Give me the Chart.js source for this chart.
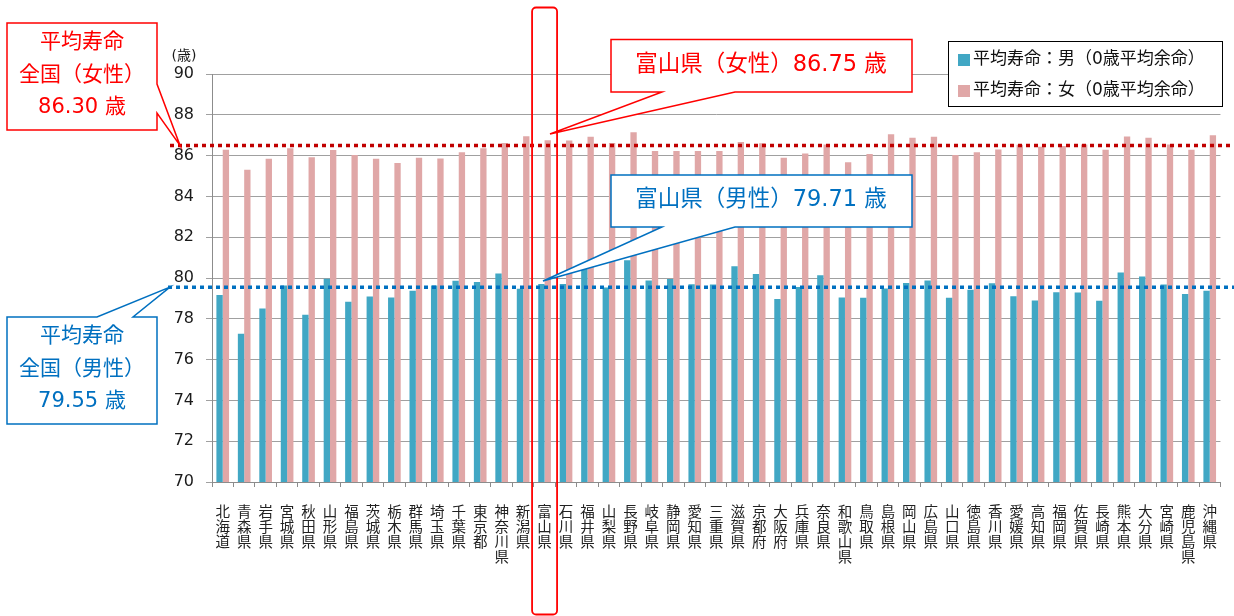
<!DOCTYPE html>
<html><head><meta charset="utf-8">
<script src="https://cdn.jsdelivr.net/npm/chart.js@4.4.1/dist/chart.umd.min.js"></script>
<style>html,body{margin:0;padding:0;background:#fff}#wrap{width:1234px;height:616px;position:relative}</style>
</head><body><div id="wrap"><canvas id="c" width="1234" height="616"></canvas></div>
<script>
const prefectures = ['北海道','青森県','岩手県','宮城県','秋田県','山形県','福島県','茨城県','栃木県','群馬県','埼玉県','千葉県','東京都','神奈川県','新潟県','富山県','石川県','福井県','山梨県','長野県','岐阜県','静岡県','愛知県','三重県','滋賀県','京都府','大阪府','兵庫県','奈良県','和歌山県','鳥取県','島根県','岡山県','広島県','山口県','徳島県','香川県','愛媛県','高知県','福岡県','佐賀県','長崎県','熊本県','大分県','宮崎県','鹿児島県','沖縄県'];
const maleValues = [79.17,77.27,78.51,79.63,78.20,79.96,78.84,79.09,79.04,79.38,79.63,79.87,79.81,80.22,79.47,79.71,79.71,80.47,79.54,80.87,79.88,79.95,79.69,79.68,80.58,80.20,78.97,79.56,80.13,79.04,79.03,79.49,79.75,79.88,79.03,79.42,79.74,79.11,78.90,79.30,79.29,78.89,80.27,80.07,79.68,79.22,79.37];
const femaleValues = [86.29,85.31,85.85,86.36,85.92,86.28,86.03,85.84,85.64,85.90,85.86,86.17,86.36,86.62,86.95,86.75,86.74,86.93,86.62,87.14,86.23,86.22,86.22,86.23,86.67,86.60,85.90,86.10,86.55,85.68,86.08,87.05,86.88,86.93,86.03,86.16,86.30,86.53,86.43,86.47,86.54,86.29,86.94,86.88,86.55,86.29,87.00];
const seriesNames = ['平均寿命：男（0歳平均余命）','平均寿命：女（0歳平均余命）'];
const yMin = 70, yMax = 90, yStep = 2;
const nationalFemaleLevel = 86.5;
const nationalMaleLevel = 79.55;
const highlightIndex = 15;

const CJK = '"Noto Sans CJK JP", sans-serif';
const MIX = '"DejaVu Sans", "Noto Sans CJK JP", sans-serif';
const MALE_C = '#41A7C4', FEMALE_C = '#E0A7A7';
const RED = '#FF0000', BLUE = '#0070C0';

function callout(ctx, pts, stroke) {
  ctx.beginPath();
  pts.forEach((p, i) => i ? ctx.lineTo(p[0], p[1]) : ctx.moveTo(p[0], p[1]));
  ctx.closePath();
  ctx.fillStyle = '#fff'; ctx.fill();
  ctx.lineWidth = 1.5; ctx.strokeStyle = stroke; ctx.stroke();
}
function texts(ctx, lines, x, font, color) {
  ctx.font = font; ctx.fillStyle = color; ctx.textAlign = 'center'; ctx.textBaseline = 'middle';
  lines.forEach(l => ctx.fillText(l[0], x, l[1]));
}

const annot = {
  id: 'annot',
  afterDraw(chart) {
    const ctx = chart.ctx, xs = chart.scales.x, ys = chart.scales.y;
    ctx.save();
    ctx.font = '14px ' + MIX; ctx.fillStyle = '#1a1a1a'; ctx.textAlign = 'center'; ctx.textBaseline = 'middle';
    ctx.fillText('(歳)', 184, 56);
    const yf = ys.getPixelForValue(nationalFemaleLevel), ym = ys.getPixelForValue(nationalMaleLevel);
    ctx.lineWidth = 3.5; ctx.setLineDash([4, 4]);
    ctx.strokeStyle = '#C00000';
    ctx.beginPath(); ctx.moveTo(170, yf); ctx.lineTo(1234, yf); ctx.stroke();
    ctx.strokeStyle = BLUE;
    ctx.beginPath(); ctx.moveTo(168, ym); ctx.lineTo(1234, ym); ctx.stroke();
    ctx.setLineDash([]);
    const cx = xs.getPixelForValue(highlightIndex);
    ctx.strokeStyle = RED; ctx.lineWidth = 1.8;
    ctx.beginPath(); ctx.roundRect(cx - 12.5, 7.5, 25, 607, 4); ctx.stroke();
    callout(ctx, [[7,23],[157,23],[157,84],[180,yf],[157,113],[157,130],[7,130]], RED);
    texts(ctx, [['平均寿命',43],['全国（女性）',76],['86.30 歳',108]], 82, '21px ' + MIX, RED);
    callout(ctx, [[7,317],[97,317],[170,ym],[133,317],[157,317],[157,424],[7,424]], BLUE);
    texts(ctx, [['平均寿命',337],['全国（男性）',370],['79.55 歳',402]], 82, '21px ' + MIX, BLUE);
    callout(ctx, [[611,39.5],[912,39.5],[912,92],[735,92],[550,134],[662,92],[611,92]], RED);
    texts(ctx, [['富山県（女性）86.75 歳',65]], 761, '22.5px ' + MIX, RED);
    callout(ctx, [[611,175],[912,175],[912,227],[735,227],[543,281],[662,227],[611,227]], BLUE);
    texts(ctx, [['富山県（男性）79.71 歳',200]], 761, '22.5px ' + MIX, BLUE);
    ctx.fillStyle = '#fff'; ctx.fillRect(948.5, 41.5, 274, 65);
    ctx.strokeStyle = '#000'; ctx.lineWidth = 1; ctx.strokeRect(948.5, 41.5, 274, 65);
    ctx.fillStyle = MALE_C; ctx.fillRect(958, 54, 12, 12);
    ctx.fillStyle = FEMALE_C; ctx.fillRect(958, 85, 12, 12);
    ctx.font = '17px ' + MIX; ctx.fillStyle = '#111'; ctx.textAlign = 'left'; ctx.textBaseline = 'middle';
    ctx.fillText(seriesNames[0], 973, 60);
    ctx.fillText(seriesNames[1], 973, 91);
    ctx.restore();
  }
};

new Chart(document.getElementById('c'), {
  type: 'bar',
  data: {
    labels: prefectures.map(p => p.split('')),
    datasets: [
      { label: seriesNames[0], data: maleValues, backgroundColor: MALE_C, borderWidth: 0, categoryPercentage: 0.59, barPercentage: 1.0 },
      { label: seriesNames[1], data: femaleValues, backgroundColor: FEMALE_C, borderWidth: 0, categoryPercentage: 0.59, barPercentage: 1.0 }
    ]
  },
  options: {
    responsive: false, animation: false,
    layout: { padding: { top: 74, right: 2, left: 0, bottom: 0 } },
    plugins: { legend: { display: false }, tooltip: { enabled: false } },
    scales: {
      x: {
        grid: { drawOnChartArea: false, color: '#8c8c8c', tickLength: 5, offset: true },
        border: { color: '#8c8c8c' },
        ticks: { font: { family: CJK, size: 14.5, lineHeight: '15px' }, color: '#222', padding: 17, maxRotation: 0, minRotation: 0, autoSkip: false },
        afterFit(s) { s.height = 134; }
      },
      y: {
        min: yMin, max: yMax,
        ticks: { stepSize: yStep, font: { family: MIX, size: 16 }, color: '#1a1a1a', padding: 12 },
        grid: { color: '#a0a0a0', tickLength: 6 },
        border: { color: '#8c8c8c' },
        afterFit(s) { s.width = 212; }
      }
    }
  },
  plugins: [annot]
});
</script>
</body></html>
